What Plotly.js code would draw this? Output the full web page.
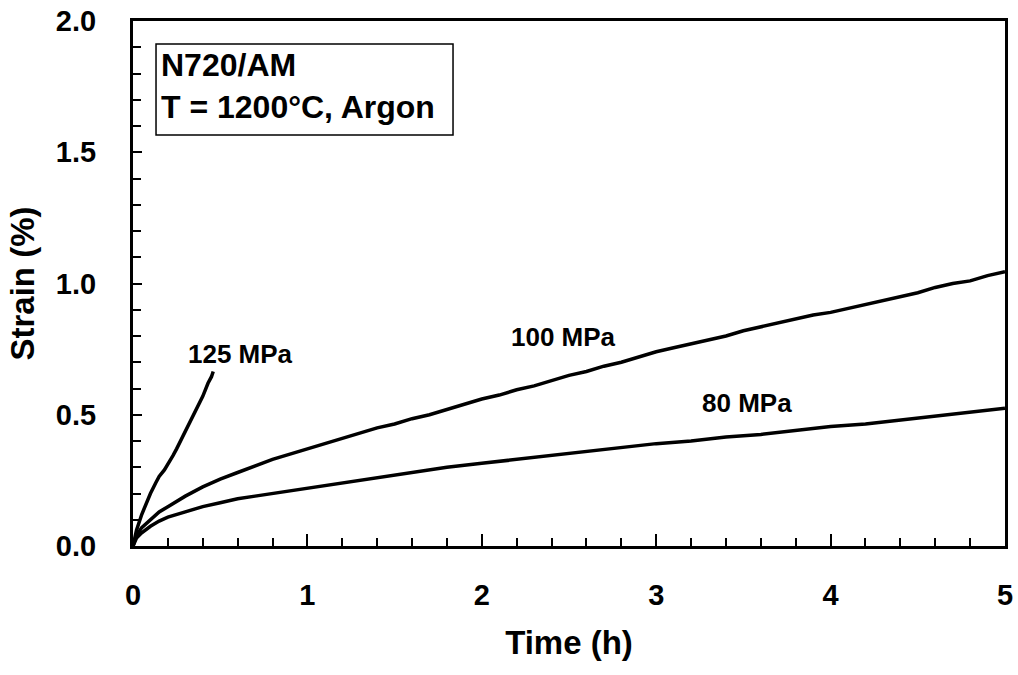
<!DOCTYPE html>
<html>
<head>
<meta charset="utf-8">
<script src="https://cdn.plot.ly/plotly-3.0.1.min.js"></script>
<style>html,body{margin:0;padding:0;background:#fff;}#chart{width:1018px;height:675px;}</style>
</head>
<body>
<div id="chart"></div>
<script>
// Time (h) and strain (%)
const t125 = [0, 0.02, 0.05, 0.08, 0.1, 0.13, 0.15, 0.18, 0.2, 0.23, 0.25, 0.28, 0.3, 0.33, 0.35, 0.38, 0.4, 0.43, 0.45, 0.46];
const s125 = [0, 0.06, 0.12, 0.17, 0.20, 0.24, 0.265, 0.29, 0.31, 0.345, 0.37, 0.41, 0.435, 0.475, 0.50, 0.54, 0.57, 0.62, 0.645, 0.665];

const t100 = [0, 0.02, 0.05, 0.1, 0.15, 0.2, 0.3, 0.4, 0.5, 0.6, 0.7, 0.8, 0.9, 1.0, 1.1, 1.2, 1.3, 1.4, 1.5, 1.6, 1.7, 1.8, 1.9, 2.0, 2.1, 2.2, 2.3, 2.4, 2.5, 2.6, 2.7, 2.8, 2.9, 3.0, 3.1, 3.2, 3.3, 3.4, 3.5, 3.6, 3.7, 3.8, 3.9, 4.0, 4.1, 4.2, 4.3, 4.4, 4.5, 4.6, 4.7, 4.8, 4.9, 5.0];
const s100 = [0, 0.04, 0.07, 0.10, 0.13, 0.15, 0.19, 0.225, 0.255, 0.28, 0.305, 0.33, 0.35, 0.37, 0.39, 0.41, 0.43, 0.45, 0.465, 0.485, 0.50, 0.52, 0.54, 0.56, 0.575, 0.595, 0.61, 0.63, 0.65, 0.665, 0.685, 0.70, 0.72, 0.74, 0.755, 0.77, 0.785, 0.80, 0.82, 0.835, 0.85, 0.865, 0.88, 0.89, 0.905, 0.92, 0.935, 0.95, 0.965, 0.985, 1.0, 1.01, 1.03, 1.045];

const t80 = [0, 0.02, 0.05, 0.1, 0.15, 0.2, 0.3, 0.4, 0.5, 0.6, 0.7, 0.8, 0.9, 1.0, 1.2, 1.4, 1.6, 1.8, 2.0, 2.2, 2.4, 2.6, 2.8, 3.0, 3.2, 3.4, 3.6, 3.8, 4.0, 4.2, 4.4, 4.6, 4.8, 5.0];
const s80 = [0, 0.03, 0.05, 0.075, 0.095, 0.11, 0.13, 0.15, 0.165, 0.18, 0.19, 0.20, 0.21, 0.22, 0.24, 0.26, 0.28, 0.30, 0.315, 0.33, 0.345, 0.36, 0.375, 0.39, 0.40, 0.415, 0.425, 0.44, 0.455, 0.465, 0.48, 0.495, 0.51, 0.525];

const seriesLabels = ["125 MPa", "100 MPa", "80 MPa"];
const labelX = [0.614, 2.466, 3.52];
const labelY = [0.73, 0.795, 0.545];
const xTicks = [0, 1, 2, 3, 4, 5];
const yTicks = [0, 0.5, 1.0, 1.5, 2.0];
const yTickText = ["0.0", "0.5", "1.0", "1.5", "2.0"];

const FONT = "Liberation Sans, Arial, sans-serif";
const lineStyle = {color: "#000", width: 3.5};

const traces = [
  {x: t125, y: s125, mode: "lines", line: lineStyle, hoverinfo: "skip"},
  {x: t100, y: s100, mode: "lines", line: lineStyle, hoverinfo: "skip"},
  {x: t80, y: s80, mode: "lines", line: lineStyle, hoverinfo: "skip"}
];

const annotations = seriesLabels.map((txt, i) => ({
  x: labelX[i], y: labelY[i], xref: "x", yref: "y", text: "<b>" + txt + "</b>",
  showarrow: false, font: {family: FONT, size: 26, color: "#000"}
}));
annotations.push({
  xref: "paper", yref: "paper", x: 0.0298, y: 0.954, xanchor: "left", yanchor: "top",
  align: "left", showarrow: false,
  text: "<b>N720/AM</b><br><b>T = 1200°C, Argon</b>",
  font: {family: FONT, size: 32, color: "#000"}
});

const axisCommon = {
  showline: true, linecolor: "#000", linewidth: 3, mirror: true,
  ticks: "inside", tickcolor: "#000", tickwidth: 2,
  showgrid: false, zeroline: false,
  tickfont: {family: FONT, size: 29, color: "#000", weight: "bold"}
};

const layout = {
  width: 1018, height: 675,
  margin: {l: 133, r: 13, t: 21, b: 129},
  paper_bgcolor: "#fff", plot_bgcolor: "#fff",
  showlegend: false,
  xaxis: Object.assign({}, axisCommon, {
    range: [0, 5], tickvals: xTicks, ticklen: 12, ticklabelstandoff: 21,
    minor: {dtick: 0.2, ticks: "inside", ticklen: 8, tickwidth: 2, tickcolor: "#000", showgrid: false},
    title: {text: "<b>Time (h)</b>", font: {family: FONT, size: 33, color: "#000"}, standoff: 22}
  }),
  yaxis: Object.assign({}, axisCommon, {
    range: [0, 2], tickvals: yTicks, ticktext: yTickText, ticklen: 9, ticklabelstandoff: 28,
    minor: {dtick: 0.1, ticks: "inside", ticklen: 8, tickwidth: 2, tickcolor: "#000", showgrid: false},
    title: {text: "<b>Strain (%)</b>", font: {family: FONT, size: 33, color: "#000"}, standoff: 12}
  }),
  shapes: [{
    type: "rect", xref: "paper", yref: "paper",
    x0: 0.0264, x1: 0.367, y0: 0.783, y1: 0.956,
    line: {color: "#000", width: 1.5}, fillcolor: "rgba(0,0,0,0)"
  }],
  annotations: annotations
};

Plotly.newPlot("chart", traces, layout, {displayModeBar: false, staticPlot: true});
</script>
</body>
</html>
